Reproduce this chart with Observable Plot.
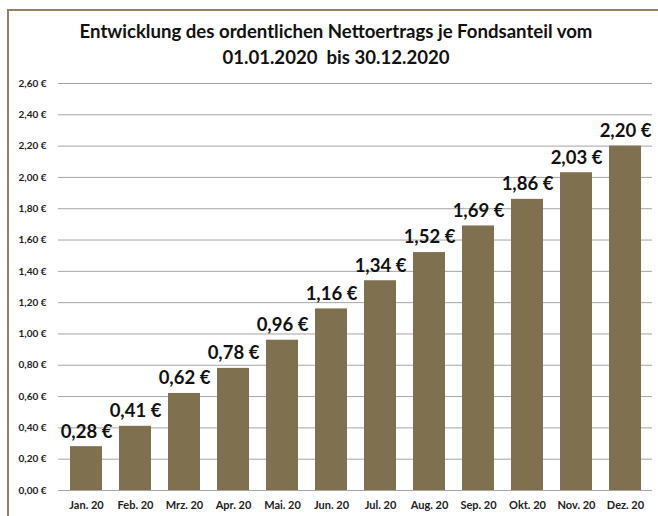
<!DOCTYPE html>
<html><head><meta charset="utf-8">
<script src="https://cdn.jsdelivr.net/npm/d3@7"></script>
<script src="https://cdn.jsdelivr.net/npm/@observablehq/plot@0.6"></script>
<style>
body{margin:0;background:#fff;}
#wrap{position:relative;width:658px;height:516px;overflow:hidden;font-family:Lato,"Open Sans",sans-serif;}
#frame{position:absolute;left:7px;top:9px;width:700px;height:600px;border-left:2px solid #8c8265;border-top:2px solid #8c8265;}
#title{position:absolute;left:0;top:18px;width:672px;text-align:center;font-weight:bold;font-size:18.6px;line-height:26px;color:#111;}
#chart{position:absolute;left:0;top:0;}
</style></head>
<body><div id="wrap"><div id="frame"></div><div id="chart"></div><div id="title">Entwicklung des ordentlichen Nettoertrags je Fondsanteil vom<br>01.01.2020&nbsp; bis 30.12.2020</div></div>
<script>
const months = ["Jan. 20","Feb. 20","Mrz. 20","Apr. 20","Mai. 20","Jun. 20","Jul. 20","Aug. 20","Sep. 20","Okt. 20","Nov. 20","Dez. 20"];
const values = [0.28,0.41,0.62,0.78,0.96,1.16,1.34,1.52,1.69,1.86,2.03,2.20];
const yTicks = [0,0.2,0.4,0.6,0.8,1.0,1.2,1.4,1.6,1.8,2.0,2.2,2.4,2.6];

const data = months.map((m,i)=>({month:m, value:values[i]}));
const fmt = v => v.toFixed(2).replace(".", ",") + " €";

const chart = Plot.plot({
  width: 658, height: 516,
  marginTop: 83, marginBottom: 26, marginLeft: 58, marginRight: 6,
  style: {fontFamily: "Lato, 'Open Sans', sans-serif", background: "transparent", overflow: "visible"},
  x: {domain: months, paddingInner: 0.35, paddingOuter: 0.18, label: null, tickSize: 0, tickPadding: 11},
  y: {domain: [0, 2.6], ticks: yTicks, tickFormat: fmt, label: null, tickSize: 0, tickPadding: 12},
  marks: [
    Plot.gridY(yTicks, {stroke: "#a6a6a6", strokeOpacity: 1, strokeWidth: 1}),
    Plot.ruleX([0], {frameAnchor: "left", stroke: "#a6a6a6"}),
    Plot.barY(data, {x: "month", y: "value", fill: "#7f7150"}),
    Plot.axisY({ticks: yTicks, tickFormat: fmt, tickSize: 0, tickPadding: 12, fontSize: 10, fontWeight: "bold", fill: "#222", label: null}),
    Plot.axisX({tickSize: 0, tickPadding: 11, fontSize: 11, fontWeight: "bold", fill: "#222", label: null}),
    Plot.text(data, {x: "month", y: "value", text: d => fmt(d.value), dy: -15, fontSize: 18.5, fontWeight: "bold", fill: "#111"})
  ]
});
document.getElementById("chart").appendChild(chart);
</script></body></html>
